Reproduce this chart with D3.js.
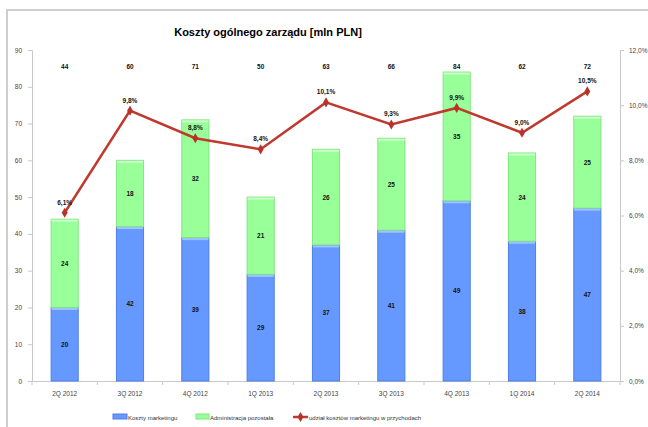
<!DOCTYPE html>
<html>
<head>
<meta charset="utf-8">
<script src="https://cdn.jsdelivr.net/npm/d3@7"></script>
<style>
  body { margin: 0; background: #fff; }
  text { font-family: "Liberation Sans", Arial, sans-serif; }
</style>
</head>
<body>
<div class="chart"></div>
<script>
var categories = ["2Q 2012", "3Q 2012", "4Q 2012", "1Q 2013", "2Q 2013", "3Q 2013", "4Q 2013", "1Q 2014", "2Q 2014"];
var marketing = [20, 42, 39, 29, 37, 41, 49, 38, 47];
var admin = [24, 18, 32, 21, 26, 25, 35, 24, 25];
var totals = [44, 60, 71, 50, 63, 66, 84, 62, 72];
var share = [6.1, 9.8, 8.8, 8.4, 10.1, 9.3, 9.9, 9.0, 10.5];
var leftTicks = [0, 10, 20, 30, 40, 50, 60, 70, 80, 90];
var rightTicks = [0, 2, 4, 6, 8, 10, 12];
var legendNames = ["Koszty marketingu", "Administracja pozostała", "udział kosztów marketingu w przychodach"];

var width = 648, height = 427;
var plotLeft = 32, plotRight = 620, plotTop = 50, plotBottom = 381;

var svg = d3.select('.chart')
    .append('svg')
    .attr('width', width)
    .attr('height', height);

// outer frame of the chart
svg.append('rect')
    .attr('x', 7).attr('y', 10)
    .attr('width', 660).attr('height', 440)
    .attr('fill', '#fff')
    .attr('stroke', '#bfbfbf')
    .attr('stroke-width', 1.5);

svg.append('text')
    .attr('x', 268).attr('y', 36)
    .attr('text-anchor', 'middle')
    .style('font-size', '11px')
    .style('font-weight', 'bold')
    .text('Koszty ogólnego zarządu [mln PLN]');

var scaleX = d3.scaleBand()
    .domain(categories)
    .range([plotLeft, plotRight])
    .paddingInner(0.585)
    .paddingOuter(0.2925);

var scaleY = d3.scaleLinear()
    .domain([0, 90])
    .range([plotBottom, plotTop]);

var scaleP = d3.scaleLinear()
    .domain([0, 12])
    .range([plotBottom, plotTop]);

var axisColor = '#c8c8c8';

// left axis
var gL = svg.append('g')
    .attr('transform', 'translate(' + plotLeft + ',0)')
    .call(d3.axisLeft(scaleY).tickValues(leftTicks).tickSize(4).tickPadding(6));
// right axis
var gR = svg.append('g')
    .attr('transform', 'translate(' + plotRight + ',0)')
    .call(d3.axisRight(scaleP).tickValues(rightTicks).tickSize(4).tickPadding(5)
        .tickFormat(d => d.toFixed(1).replace('.', ',') + '%'));

// bottom axis with ticks between categories
var gB = svg.append('g')
    .attr('transform', 'translate(0,' + plotBottom + ')')
    .call(d3.axisBottom(scaleX).tickSize(0).tickPadding(10));

var step = scaleX.step();
gB.selectAll('line.sep')
    .data(d3.range(categories.length + 1))
    .enter()
    .append('line')
    .attr('class', 'sep')
    .attr('x1', i => plotLeft + i * step)
    .attr('x2', i => plotLeft + i * step)
    .attr('y1', 0).attr('y2', 4);

[gL, gR, gB].forEach(g => {
    g.selectAll('path, line').attr('stroke', axisColor);
    g.selectAll('text').attr('fill', '#444').style('font-size', '6.5px');
});

var bw = scaleX.bandwidth();

svg.selectAll('rect.mk')
    .data(marketing)
    .enter()
    .append('rect')
    .attr('class', 'mk')
    .attr('x', (d, i) => scaleX(categories[i]))
    .attr('y', d => scaleY(d))
    .attr('width', bw)
    .attr('height', d => plotBottom - scaleY(d))
    .attr('fill', '#6699ff')
    .attr('stroke', '#4f7fe6')
    .attr('stroke-width', 1);

svg.selectAll('rect.ad')
    .data(admin)
    .enter()
    .append('rect')
    .attr('class', 'ad')
    .attr('x', (d, i) => scaleX(categories[i]))
    .attr('y', (d, i) => scaleY(marketing[i] + d))
    .attr('width', bw)
    .attr('height', (d, i) => scaleY(marketing[i]) - scaleY(marketing[i] + d))
    .attr('fill', '#99ff99')
    .attr('stroke', '#7fe87f')
    .attr('stroke-width', 1);

// light highlight on top of each segment
svg.selectAll('rect.hlm')
    .data(marketing)
    .enter()
    .append('rect')
    .attr('class', 'hlm')
    .attr('x', (d, i) => scaleX(categories[i]) + 0.5)
    .attr('y', d => scaleY(d) + 0.5)
    .attr('width', bw - 1)
    .attr('height', 2)
    .attr('fill', '#9fc3ff');
svg.selectAll('rect.hla')
    .data(admin)
    .enter()
    .append('rect')
    .attr('class', 'hla')
    .attr('x', (d, i) => scaleX(categories[i]) + 0.5)
    .attr('y', (d, i) => scaleY(marketing[i] + d) + 0.5)
    .attr('width', bw - 1)
    .attr('height', 2)
    .attr('fill', '#ccffcc');

var labelStyle = function (sel) {
    sel.attr('text-anchor', 'middle')
        .style('font-size', '6.5px')
        .style('font-weight', 'bold')
        .attr('fill', '#111');
};

svg.selectAll('text.vm')
    .data(marketing)
    .enter()
    .append('text')
    .attr('class', 'vm')
    .attr('x', (d, i) => scaleX(categories[i]) + bw / 2)
    .attr('y', d => scaleY(d / 2) + 2.5)
    .text(d => d)
    .call(labelStyle);

svg.selectAll('text.va')
    .data(admin)
    .enter()
    .append('text')
    .attr('class', 'va')
    .attr('x', (d, i) => scaleX(categories[i]) + bw / 2)
    .attr('y', (d, i) => scaleY(marketing[i] + d / 2) + 2.5)
    .text(d => d)
    .call(labelStyle);

svg.selectAll('text.tot')
    .data(totals)
    .enter()
    .append('text')
    .attr('class', 'tot')
    .attr('x', (d, i) => scaleX(categories[i]) + bw / 2)
    .attr('y', 69)
    .text(d => d)
    .call(labelStyle);

// share line
var line = d3.line()
    .x((d, i) => scaleX(categories[i]) + bw / 2)
    .y(d => scaleP(d));

svg.append('path')
    .datum(share)
    .attr('d', line)
    .attr('fill', 'none')
    .attr('stroke', '#c0392f')
    .attr('stroke-width', 2.5);

svg.selectAll('path.pt')
    .data(share)
    .enter()
    .append('path')
    .attr('class', 'pt')
    .attr('d', d3.symbol().type(d3.symbolDiamond).size(30))
    .attr('transform', (d, i) => 'translate(' + (scaleX(categories[i]) + bw / 2) + ',' + scaleP(d) + ')')
    .attr('fill', '#b8322a');

svg.selectAll('text.sh')
    .data(share)
    .enter()
    .append('text')
    .attr('class', 'sh')
    .attr('x', (d, i) => scaleX(categories[i]) + bw / 2)
    .attr('y', d => scaleP(d) - 8)
    .text(d => d.toFixed(1).replace('.', ',') + '%')
    .call(labelStyle);

// legend
var lg = svg.append('g').attr('transform', 'translate(0,417)');
lg.append('rect').attr('x', 113).attr('y', -3).attr('width', 14).attr('height', 5)
    .attr('fill', '#6699ff').attr('stroke', '#4f7fe6');
lg.append('rect').attr('x', 196).attr('y', -3).attr('width', 13).attr('height', 5)
    .attr('fill', '#99ff99').attr('stroke', '#7fe87f');
lg.append('line').attr('x1', 293).attr('x2', 308).attr('y1', 0).attr('y2', 0)
    .attr('stroke', '#c0392f').attr('stroke-width', 2.5);
lg.append('path').attr('d', d3.symbol().type(d3.symbolDiamond).size(30))
    .attr('transform', 'translate(300.5,0)').attr('fill', '#b8322a');

lg.selectAll('text.lt')
    .data(legendNames)
    .enter()
    .append('text')
    .attr('class', 'lt')
    .attr('x', (d, i) => [128, 210, 309][i])
    .attr('y', 2.5)
    .style('font-size', '6px')
    .attr('fill', '#333')
    .text(d => d);
</script>
</body>
</html>
